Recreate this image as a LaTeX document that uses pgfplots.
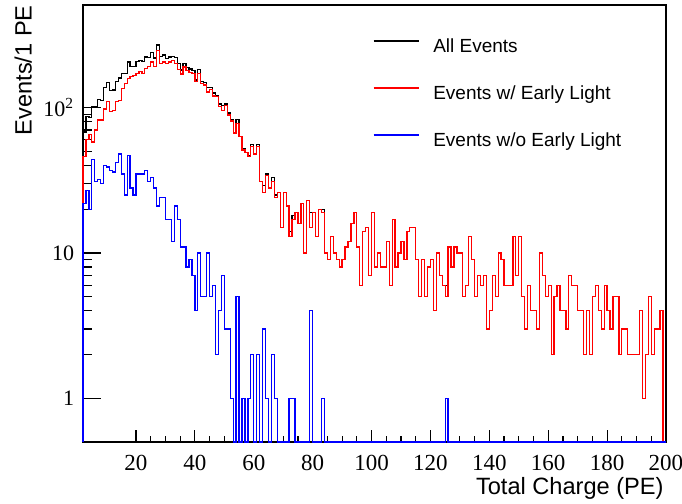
\documentclass[border=0pt]{standalone}
\usepackage{fontspec}
\setmainfont{Liberation Serif}
\newfontfamily\arial{Liberation Sans}
\usepackage{pgfplots}
\usepackage{pgfplotstable}
\pgfplotsset{compat=1.18}
% columns: bin low edge, all events, events w/ early light, events w/o early light (0 counts drawn at 0.5)
\pgfplotstableread{
x all early late
2 0.5 0.5 0.5
2 68 46 22
3 87 60 27
4 85 65 20
5 102 58 44
6 101 70 31
7 114 82 32
8 112 82 30
9 138 98 40
10 149 110 39
11 131 94 37
12 132 96 36
13 152 110 42
14 160 112 48
15 171 136 35
16 172 147 25
17 206 159 47
18 191 163 28
19 192 167 25
20 207 172 35
21 212 177 35
22 207 172 35
23 223 186 37
24 222 191 31
25 239 206 33
26 219 191 28
27 269 248 21
28 225 201 24
29 230 206 24
30 218 201 17
31 223 206 17
32 224 212 12
33 222 201 21
34 200 183 17
35 181 170 11
36 201 190 11
37 188 180 8
38 184 175 9
39 179 172 7
40 155 151 4
41 182 172 10
42 152 147 5
43 148 143 5
44 138 128 10
45 138 133 5
46 126 120 6
47 121 119 2
48 106 102 4
49 103 96 7
50 106 103 3
51 92 89 3
52 82 81 1
53 67 67 0.5
54 83 78 5
55 63 63 0.5
56 52 51 1
57 49 49 0.5
58 47 46 1
59 56 54 2
60 48 48 0.5
61 56 54 2
62 31 31 0.5
63 29 26 3
64 35 34 1
65 28 28 0.5
66 33 31 2
67 25 24 1
68 26 26 0.5
69 15 15 0.5
70 26 26 0.5
71 21 21 0.5
72 14 13 1
73 18 17 1
74 19 19 0.5
75 16 16 0.5
76 22 22 0.5
77 10 10 0.5
78 23 23 0.5
79 19 15 4
80 19 19 0.5
81 13 13 0.5
82 20 20 0.5
83 20 19 1
84 10 10 0.5
85 9 9 0.5
86 13 13 0.5
87 10 10 0.5
88 9 9 0.5
89 8 8 0.5
90 9 9 0.5
91 11 11 0.5
92 12 12 0.5
93 16 16 0.5
94 19 19 0.5
95 11 11 0.5
96 6 6 0.5
97 14 14 0.5
98 15 15 0.5
99 7 7 0.5
100 19 19 0.5
101 8 8 0.5
102 10 10 0.5
103 8 8 0.5
104 8 8 0.5
105 12 12 0.5
106 6 6 0.5
107 17 17 0.5
108 8 8 0.5
109 10 10 0.5
110 12 12 0.5
111 9 9 0.5
112 14 14 0.5
113 15 15 0.5
114 15 15 0.5
115 9 9 0.5
116 5 5 0.5
117 9 9 0.5
118 5 5 0.5
119 8 8 0.5
120 9 9 0.5
121 4 4 0.5
122 10 10 0.5
123 7 7 0.5
124 6 6 0.5
125 6 5 1
126 11 11 0.5
127 8 8 0.5
128 11 11 0.5
129 10 10 0.5
130 10 10 0.5
131 5 5 0.5
132 6 6 0.5
133 13 13 0.5
134 9 9 0.5
135 5 5 0.5
136 7 7 0.5
137 6 6 0.5
138 7 7 0.5
139 3 3 0.5
140 4 4 0.5
141 7 7 0.5
142 5 5 0.5
143 10 10 0.5
144 9 9 0.5
145 6 6 0.5
146 6 6 0.5
147 6 6 0.5
148 13 13 0.5
149 7 7 0.5
150 13 13 0.5
151 5 5 0.5
152 3 3 0.5
153 6 6 0.5
154 4 4 0.5
155 4 4 0.5
156 3 3 0.5
157 10 10 0.5
158 7 7 0.5
159 5 5 0.5
160 6 6 0.5
161 2 2 0.5
162 5 5 0.5
163 6 6 0.5
164 4 4 0.5
165 4 4 0.5
166 3 3 0.5
167 7 7 0.5
168 6 6 0.5
169 6 6 0.5
170 4 4 0.5
171 4 4 0.5
172 2 2 0.5
173 4 4 0.5
174 2 2 0.5
175 5 5 0.5
176 6 6 0.5
177 4 4 0.5
178 3 3 0.5
179 6 6 0.5
180 4 4 0.5
181 3 3 0.5
182 5 5 0.5
183 5 5 0.5
184 2 2 0.5
185 3 3 0.5
186 3 3 0.5
187 2 2 0.5
188 2 2 0.5
189 2 2 0.5
190 2 2 0.5
191 4 4 0.5
192 1 1 0.5
193 2 2 0.5
194 5 5 0.5
195 2 2 0.5
196 3 3 0.5
197 3 3 0.5
198 4 4 0.5
199 0.5 0.5 0.5
200 0.5 0.5 0.5
}\histdata
\begin{document}
\begin{tikzpicture}
\path[use as bounding box] (-41.5pt,-31pt) rectangle (299.5pt,221pt);
\begin{axis}[
  scale only axis, width=291.5pt, height=218.5pt,
  at={(0pt,0pt)}, anchor=south west,
  xmin=2, xmax=200, ymode=log, ymin=0.5, ymax=508,
  clip=false,
  axis line style={line width=1.1pt},
  xtick={20,40,...,200}, minor x tick num=3,
  ytick={1,10,100}, yticklabels={1,10,10\textsuperscript{2}},
  tick pos=left, tick align=inside,
  major tick length=6pt, minor tick length=3pt,
  tick style={black, line width=0.6pt},
  ytick style={/pgfplots/major tick length=8.75pt, /pgfplots/minor tick length=4.25pt},
  /pgf/number format/assume math mode=true,
  xticklabel style={font=\fontsize{11.5}{13}\selectfont, inner sep=0pt, yshift=-6.5pt},
  yticklabel style={font=\fontsize{11}{13}\selectfont, inner sep=0pt, xshift=-4.25pt},
  legend style={draw=none, fill=none, at={(rel axis cs:0.4974,0.923)}, anchor=north west,
    font=\arial\fontsize{9.5}{11}\selectfont, inner sep=0pt, outer sep=0pt,
    row sep=14.5pt, column sep=7pt,
    nodes={inner sep=0pt, text height=7pt, text depth=2pt}},
  legend cell align=left,
  legend image code/.code={\draw[#1] (0pt,3.3pt) -- (22.5pt,3.3pt);},
]
\addplot[const plot, black, line width=0.65pt] table[x=x, y=all] {\histdata};
\addlegendentry{All Events}
\addplot[const plot, red, line width=0.65pt] table[x=x, y=early] {\histdata};
\addlegendentry{Events w/ Early Light}
\addplot[const plot, blue, line width=0.65pt] table[x=x, y=late] {\histdata};
\addlegendentry{Events w/o Early Light}
\end{axis}
\node[rotate=90, anchor=base east, font=\arial\fontsize{11.8}{14}\selectfont, inner sep=0pt] at (-25.65pt,218.5pt) {Events/1 PE};
\node[anchor=base east, font=\arial\fontsize{11.8}{14}\selectfont, inner sep=0pt] at (290.5pt,-26.5pt) {Total Charge (PE)};
\end{tikzpicture}
\end{document}
